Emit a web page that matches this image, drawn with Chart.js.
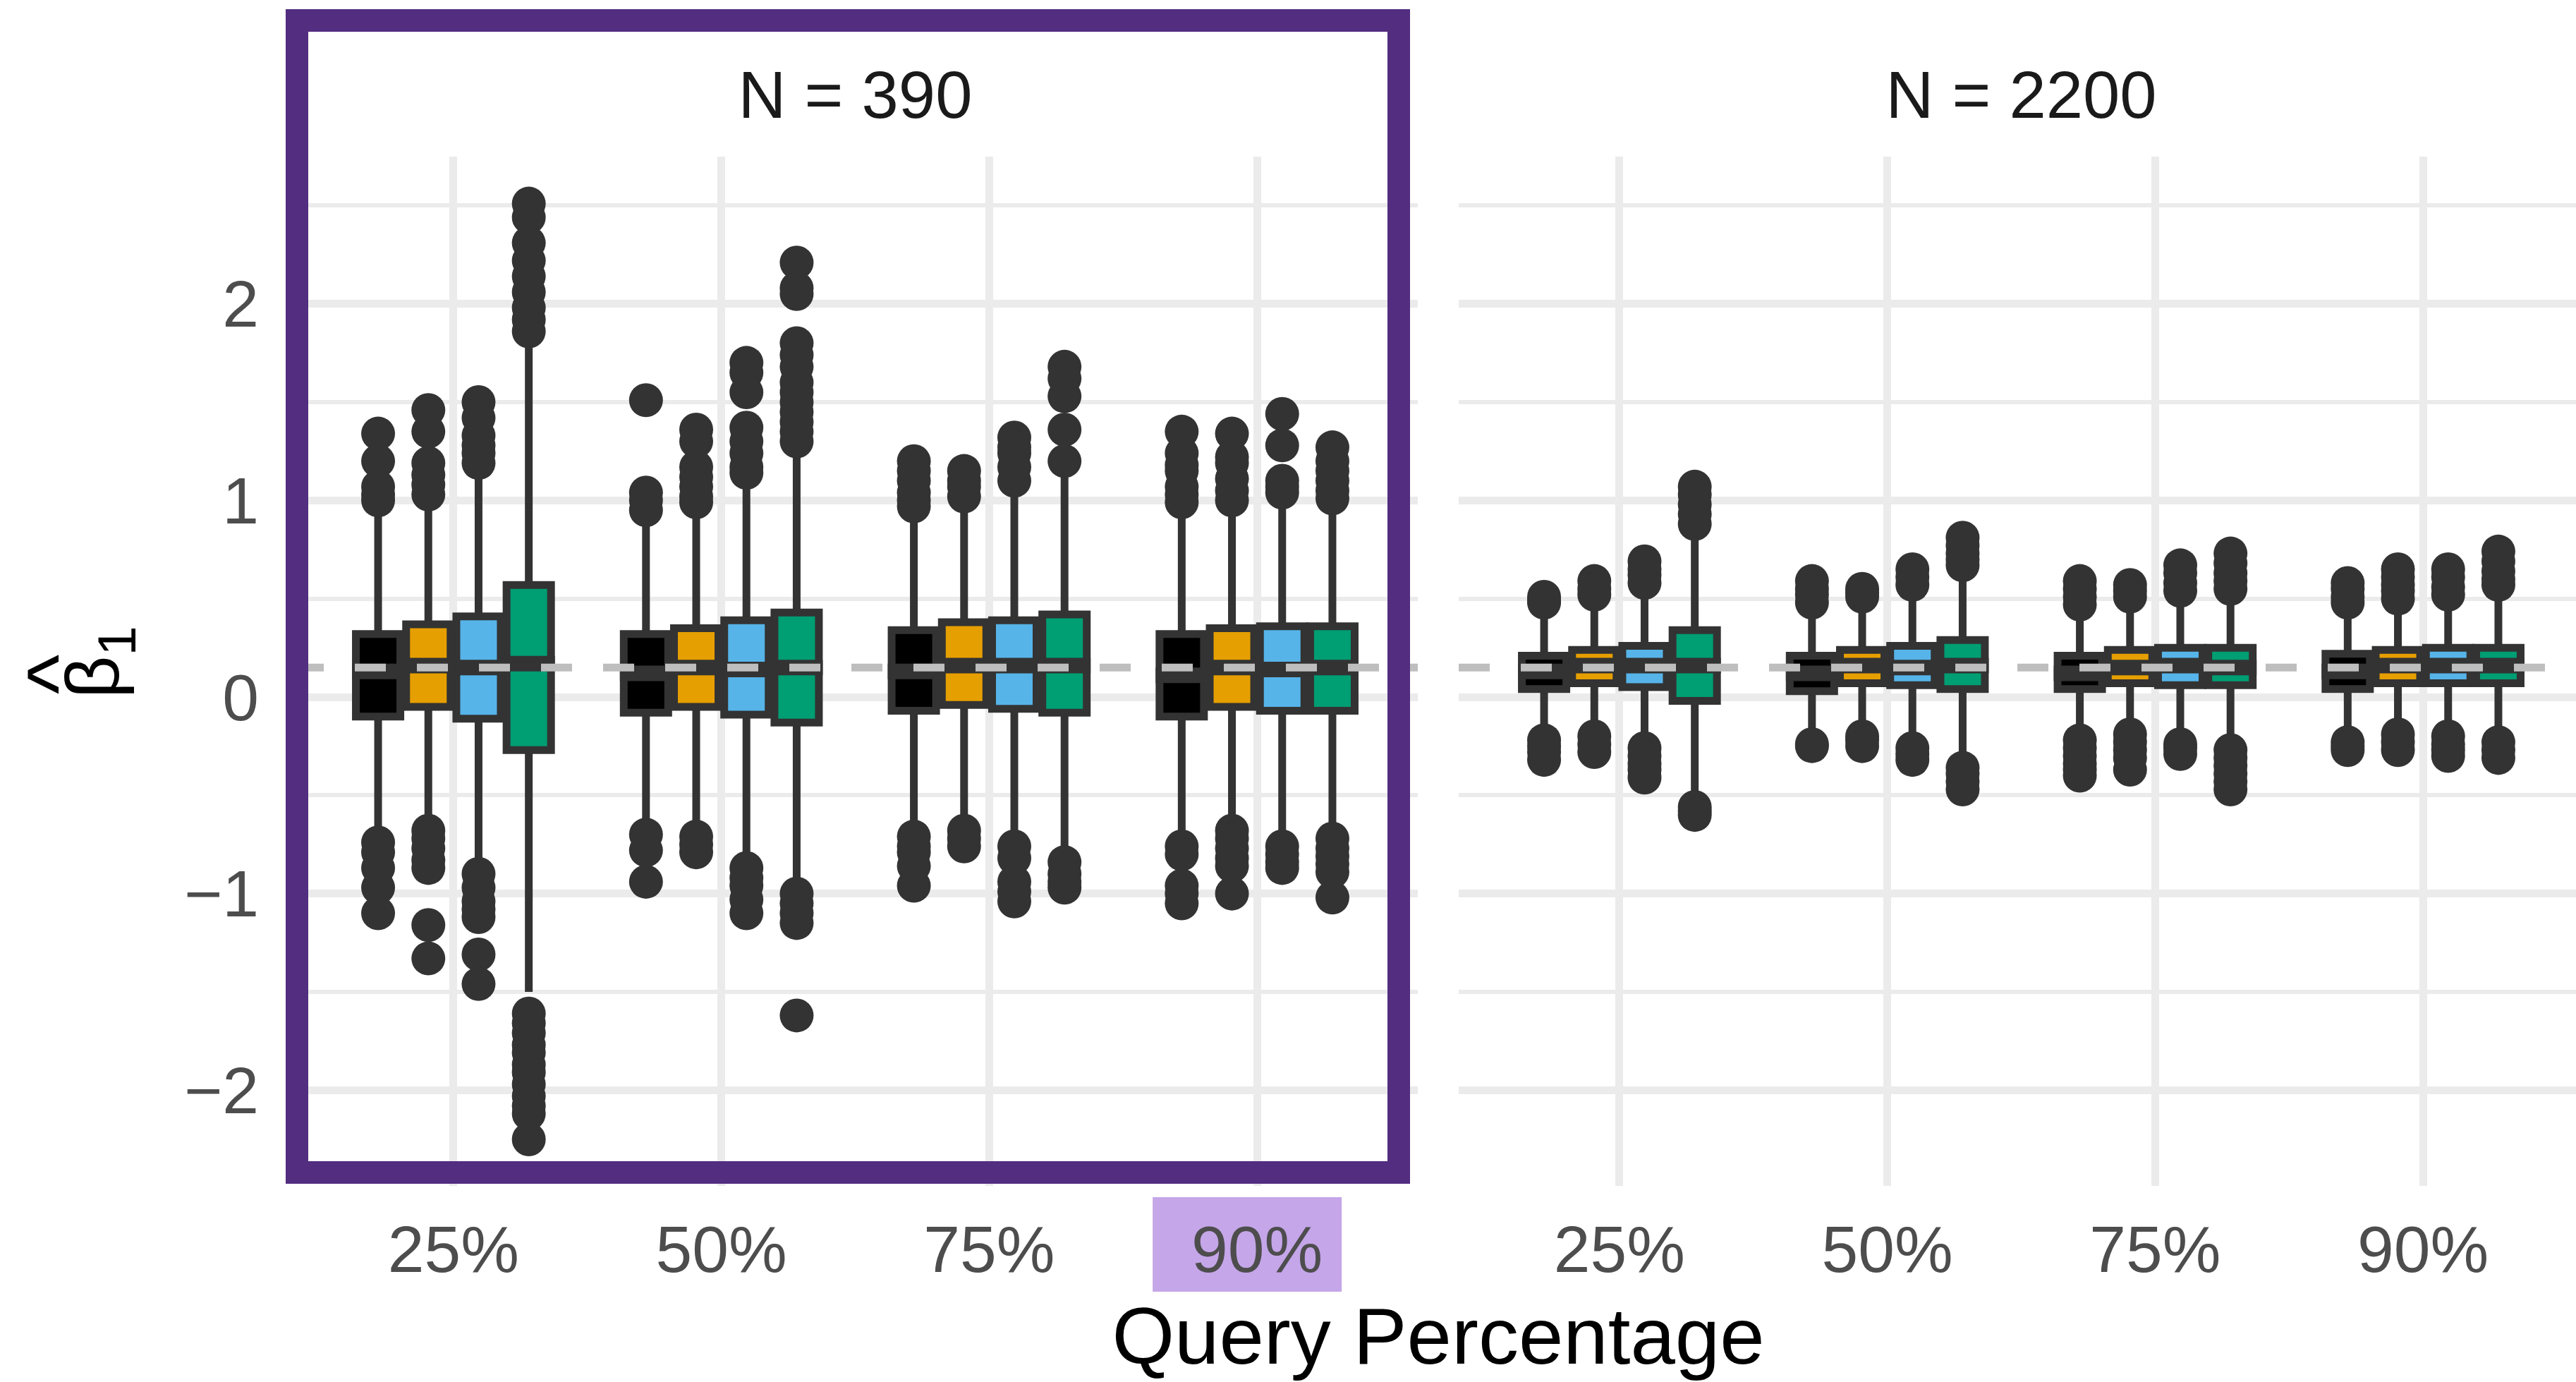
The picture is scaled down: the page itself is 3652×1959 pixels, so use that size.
<!DOCTYPE html>
<html>
<head>
<meta charset="utf-8">
<script src="https://cdn.jsdelivr.net/npm/chart.js@4.4.1/dist/chart.umd.min.js"></script>
<style>
  html, body { margin: 0; padding: 0; background: #ffffff; overflow: hidden; }
  body { width: 3652px; height: 1959px; position: relative; font-family: "Liberation Sans", Arial, sans-serif; }
  .panel { position: absolute; top: 0; height: 1959px; }
  #leftPanel { left: 0; width: 2010px; }
  #rightPanel { left: 2040px; width: 1623px; }
  #frame { position: absolute; left: 405px; top: 13px; width: 1594px; height: 1665px; box-sizing: border-box; border: 32px solid #522D80; pointer-events: none; }
  #xTitle { position: absolute; left: 415px; width: 3248px; top: 1837px; font-size: 114px; line-height: 114px; text-align: center; color: #000000; white-space: nowrap; }
</style>
</head>
<body>
<div class="panel" id="leftPanel"><canvas id="chartN390"></canvas></div>
<div class="panel" id="rightPanel"><canvas id="chartN2200"></canvas></div>
<div id="frame"></div>
<div id="xTitle">Query Percentage</div>

<script>
// ---- data (rows = method: black, orange, sky blue, green; columns = query %) ----
const queryLabels = ['25%', '50%', '75%', '90%'];
const methodColors = ['#000000', '#E69F00', '#56B4E9', '#009E73'];
const trueBeta = 0.15;
const yGridValues = [-2, -1.5, -1, -0.5, 0, 0.5, 1, 1.5, 2, 2.5];

// N = 390
const n390Lower = [
  [-0.70, -0.66, -0.66, -0.72],
  [-0.64, -0.63, -0.64, -0.64],
  [-0.86, -0.80, -0.73, -0.70],
  [-1.50, -0.96, -0.78, -0.69]
];
const n390Q1 = [
  [-0.10, -0.08, -0.07, -0.10],
  [-0.05, -0.05, -0.04, -0.05],
  [-0.11, -0.09, -0.06, -0.07],
  [-0.27, -0.13, -0.08, -0.07]
];
const n390Median = [
  [0.13, 0.12, 0.13, 0.11],
  [0.16, 0.15, 0.16, 0.15],
  [0.15, 0.14, 0.16, 0.14],
  [0.17, 0.15, 0.16, 0.15]
];
const n390Q3 = [
  [0.32, 0.32, 0.34, 0.32],
  [0.37, 0.35, 0.38, 0.35],
  [0.41, 0.39, 0.39, 0.36],
  [0.57, 0.43, 0.42, 0.36]
];
const n390Upper = [
  [0.94, 0.88, 0.93, 0.93],
  [0.97, 0.94, 0.98, 0.93],
  [1.15, 1.10, 1.04, 0.98],
  [1.80, 1.26, 1.12, 0.98]
];
const n390Outliers = [
  [
    [1.34, 1.20, 1.07, 1.03, 1.00, -0.74, -0.79, -0.87, -0.97, -1.10],
    [1.51, 1.04, 1.00, 0.95, -0.70, -0.78, -0.94],
    [1.20, 1.15, 1.10, 1.04, 1.00, 0.97, -0.71, -0.76, -0.79, -0.86, -0.96],
    [1.35, 1.24, 1.18, 1.15, 1.07, 1.03, 0.99, -0.76, -0.80, -0.96, -1.00, -1.05]
  ],
  [
    [1.46, 1.35, 1.19, 1.13, 1.08, 1.03, -0.68, -0.72, -0.77, -0.83, -0.87, -1.16, -1.33],
    [1.36, 1.30, 1.17, 1.12, 1.07, 1.02, 0.99, -0.71, -0.75, -0.79],
    [1.15, 1.10, 1.07, 1.02, -0.68, -0.72, -0.76],
    [1.34, 1.22, 1.19, 1.11, 1.05, 1.00, -0.68, -0.72, -0.77, -0.82, -0.86, -1.00]
  ],
  [
    [1.50, 1.42, 1.33, 1.28, 1.24, 1.19, -0.90, -0.97, -1.04, -1.08, -1.12, -1.31, -1.46],
    [1.70, 1.65, 1.55, 1.37, 1.30, 1.24, 1.17, 1.14, -0.87, -0.92, -0.96, -1.03, -1.10],
    [1.32, 1.27, 1.24, 1.17, 1.10, -0.76, -0.82, -0.94, -0.99, -1.04],
    [1.44, 1.28, 1.10, 1.07, 1.04, -0.76, -0.80, -0.84, -0.87]
  ],
  [
    [2.51, 2.44, 2.31, 2.22, 2.14, 2.06, 1.98, 1.92, 1.86, -1.61, -1.66, -1.71, -1.77, -1.81, -1.87, -1.91, -1.97, -2.03, -2.08, -2.12, -2.25],
    [2.21, 2.08, 2.05, 1.80, 1.74, 1.68, 1.60, 1.55, 1.50, 1.45, 1.40, 1.35, 1.30, -1.00, -1.05, -1.10, -1.15, -1.62],
    [1.68, 1.62, 1.53, 1.36, 1.20, -0.84, -0.90, -0.94, -0.97],
    [1.27, 1.20, 1.15, 1.10, 1.05, 1.01, -0.72, -0.77, -0.81, -0.85, -0.89, -1.02]
  ]
];

// N = 2200
const n2200Lower = [
  [-0.20, -0.22, -0.20, -0.21],
  [-0.18, -0.18, -0.17, -0.17],
  [-0.24, -0.24, -0.22, -0.18],
  [-0.54, -0.33, -0.25, -0.20]
];
const n2200Q1 = [
  [0.04, 0.03, 0.04, 0.04],
  [0.07, 0.07, 0.07, 0.07],
  [0.05, 0.06, 0.06, 0.07],
  [-0.02, 0.04, 0.06, 0.07]
];
const n2200Median = [
  [0.13, 0.12, 0.12, 0.13],
  [0.16, 0.16, 0.15, 0.16],
  [0.16, 0.15, 0.16, 0.16],
  [0.16, 0.16, 0.15, 0.16]
];
const n2200Q3 = [
  [0.21, 0.21, 0.21, 0.22],
  [0.24, 0.24, 0.24, 0.24],
  [0.26, 0.26, 0.25, 0.25],
  [0.34, 0.29, 0.25, 0.25]
];
const n2200Upper = [
  [0.45, 0.46, 0.44, 0.45],
  [0.49, 0.49, 0.48, 0.49],
  [0.56, 0.55, 0.52, 0.50],
  [0.86, 0.64, 0.53, 0.52]
];
const n2200Outliers = [
  [
    [0.51, 0.49, 0.48, -0.22, -0.25, -0.28, -0.32],
    [0.59, 0.55, 0.52, 0.48, -0.24, -0.25],
    [0.59, 0.55, 0.51, 0.47, -0.22, -0.26, -0.30, -0.34, -0.37, -0.40],
    [0.58, 0.55, 0.51, 0.48, -0.23, -0.25, -0.27]
  ],
  [
    [0.59, 0.55, 0.52, -0.20, -0.24, -0.28],
    [0.55, 0.53, 0.51, -0.20, -0.22, -0.25],
    [0.57, 0.54, 0.51, -0.19, -0.23, -0.27, -0.31, -0.37],
    [0.65, 0.61, 0.57, 0.54, 0.50, -0.19, -0.23, -0.27]
  ],
  [
    [0.69, 0.65, 0.62, 0.58, -0.26, -0.30, -0.34, -0.37, -0.41],
    [0.65, 0.61, 0.57, -0.26, -0.29, -0.32],
    [0.67, 0.63, 0.58, 0.54, -0.24, -0.26, -0.29],
    [0.65, 0.61, 0.56, 0.52, -0.20, -0.24, -0.27, -0.30]
  ],
  [
    [1.07, 1.03, 0.98, 0.93, 0.88, -0.56, -0.58, -0.60],
    [0.81, 0.77, 0.73, 0.70, 0.67, -0.36, -0.39, -0.43, -0.47],
    [0.73, 0.68, 0.63, 0.59, 0.55, -0.27, -0.31, -0.35, -0.39, -0.43, -0.47],
    [0.74, 0.69, 0.64, 0.60, 0.57, -0.23, -0.27, -0.31]
  ]
];

// ---- look ----
const FONT = '"Liberation Sans", Arial, sans-serif';
const DARK = '#333333';
const GRID = '#EBEBEB';
const DODGE = 0.75;                          // share of a category taken by the 4 boxes
const X_MIN = 0.4, X_MAX = 4.6;              // ggplot discrete expansion (0.6 each side)
const Y_MIN = -2.487, Y_MAX = 2.749;

function fmtTick(v) {
  return v < 0 ? '\u2212' + Math.abs(v) : String(v);
}

// lavender box behind the "90%" label of the first panel
const highlightPlugin = {
  id: 'highlight90',
  beforeDraw(chart) {
    const ctx = chart.ctx;
    const cx = chart.scales.x.getPixelForValue(4);
    ctx.save();
    ctx.fillStyle = '#C5A6E9';
    ctx.fillRect(cx - 148, chart.chartArea.bottom + 16, 268, 134);
    ctx.restore();
  }
};

// beta-hat sub 1, rotated like an axis title
const yTitlePlugin = {
  id: 'yTitle',
  afterDraw(chart) {
    const ctx = chart.ctx;
    ctx.save();
    ctx.translate(168, 990);
    ctx.rotate(-Math.PI / 2);
    ctx.fillStyle = '#000000';
    ctx.textBaseline = 'alphabetic';
    ctx.font = '105px ' + FONT;
    ctx.fillText('\u03B2', 0, 0);
    const bw = ctx.measureText('\u03B2').width;
    ctx.font = '76px ' + FONT;
    ctx.fillText('1', bw, 24);
    ctx.font = '120px ' + FONT;
    ctx.textAlign = 'center';
    ctx.fillText('^', bw / 2 + 4, -45);
    ctx.restore();
  }
};

function makePanel(canvasId, title, lower, q1, median, q3, upper, outliers, withYAxis) {
  const slot = DODGE / methodColors.length;
  const datasets = [{
    type: 'line',
    data: [{x: X_MIN, y: trueBeta}, {x: X_MAX, y: trueBeta}],
    borderColor: '#BEBEBE',
    borderWidth: 11,
    borderDash: [44, 44],
    pointRadius: 0,
    order: 0
  }];

  methodColors.forEach((color, m) => {
    const stack = 'm' + m;
    const span = (a, b) => queryLabels.map((_, i) => ({x: i + 1, y: [a[m][i], b[m][i]]}));
    const pts = [];
    outliers[m].forEach((vals, i) => {
      vals.forEach(v => pts.push({x: i + 1 + (m - 1.5) * slot, y: v}));
    });

    datasets.push(
      // median band
      {data: span(median, median), stack, backgroundColor: DARK, barPercentage: 0.73, inflateAmount: 11, order: 1},
      // box fill
      {data: span(q1, q3), stack, backgroundColor: color, barPercentage: 0.885, inflateAmount: -5.5, order: 2},
      // box outline
      {data: span(q1, q3), stack, backgroundColor: DARK, barPercentage: 0.885, inflateAmount: 5.5, order: 3},
      // outliers
      {type: 'scatter', data: pts, backgroundColor: DARK, borderWidth: 0, pointRadius: 24, order: 4},
      // whiskers
      {data: span(lower, upper), stack, backgroundColor: DARK, barPercentage: 0.1545, inflateAmount: 0, order: 5}
    );
  });

  return new Chart(document.getElementById(canvasId), {
    type: 'bar',
    data: {datasets},
    options: {
      responsive: true,
      maintainAspectRatio: false,
      animation: false,
      devicePixelRatio: 1,
      events: [],
      layout: {autoPadding: false, padding: {left: withYAxis ? 0 : 28, right: 0, top: 0, bottom: 0}},
      datasets: {bar: {categoryPercentage: DODGE, borderWidth: 0}},
      plugins: {
        legend: {display: false},
        tooltip: {enabled: false},
        title: {
          display: true,
          text: title,
          fullSize: false,
          color: '#1A1A1A',
          font: {family: FONT, size: 94, weight: 'normal', lineHeight: 1.2},
          padding: {top: 84.6, bottom: 24.6}
        }
      },
      scales: {
        x: {
          type: 'linear',
          min: X_MIN,
          max: X_MAX,
          offset: false,
          afterBuildTicks: s => { s.ticks = queryLabels.map((_, i) => ({value: i + 1})); },
          afterFit: s => { s.height = 278; },
          ticks: {
            callback: v => queryLabels[v - 1],
            color: '#4D4D4D',
            font: {family: FONT, size: 93},
            padding: 41,
            maxRotation: 0,
            autoSkip: false
          },
          grid: {color: GRID, lineWidth: 11, drawTicks: false, offset: false},
          border: {display: false}
        },
        y: {
          min: Y_MIN,
          max: Y_MAX,
          stacked: false,
          afterBuildTicks: s => { s.ticks = yGridValues.map(v => ({value: v})); },
          afterFit: s => { s.width = withYAxis ? 415 : 0; },
          ticks: {
            display: withYAxis,
            callback: v => Number.isInteger(v) ? fmtTick(v) : '',
            color: '#4D4D4D',
            font: {family: FONT, size: 93},
            padding: 48,
            labelOffset: 7
          },
          grid: {
            color: GRID,
            lineWidth: ctx => Number.isInteger(ctx.tick.value) ? 11 : 6,
            drawTicks: false
          },
          border: {display: false}
        }
      }
    },
    plugins: withYAxis ? [highlightPlugin, yTitlePlugin] : []
  });
}

makePanel('chartN390', 'N = 390', n390Lower, n390Q1, n390Median, n390Q3, n390Upper, n390Outliers, true);
makePanel('chartN2200', 'N = 2200', n2200Lower, n2200Q1, n2200Median, n2200Q3, n2200Upper, n2200Outliers, false);
</script>
</body>
</html>
